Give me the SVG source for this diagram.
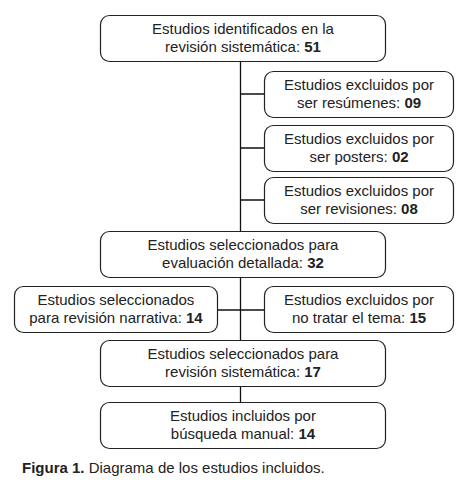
<svg xmlns="http://www.w3.org/2000/svg" width="460" height="486" viewBox="0 0 460 486">
<style>
.box{fill:#fff;stroke:#222;stroke-width:1.2}
.t{font-family:"Liberation Sans",Arial,sans-serif;font-size:15px;fill:#222;text-anchor:middle}
.b{font-weight:bold}
.c{stroke:#111;stroke-width:1.3;fill:none}
.cap{font-family:"Liberation Sans",Arial,sans-serif;font-size:15px;fill:#222}
</style>
<rect width="460" height="486" fill="#fff"/>
<g id="connectors">
<path class="c" d="M240.5 61V232M240.5 277V341M240.5 386V403M240.5 94H264M240.5 148H264M240.5 200H264M217 310H264"/>
</g>
<g id="n1"><rect class="box" x="100.5" y="15.5" width="285" height="46" rx="9"/>
<text class="t" x="243" y="33.5">Estudios identificados en la</text>
<text class="t" x="243" y="51.5">revisión sistemática: <tspan class="b">51</tspan></text></g>
<g id="n2"><rect class="box" x="264.5" y="71.5" width="189" height="46" rx="9"/>
<text class="t" x="359" y="89.5">Estudios excluidos por</text>
<text class="t" x="359" y="107.5">ser resúmenes: <tspan class="b">09</tspan></text></g>
<g id="n3"><rect class="box" x="264.5" y="125.5" width="189" height="46" rx="9"/>
<text class="t" x="359" y="143.5">Estudios excluidos por</text>
<text class="t" x="359" y="161.5">ser posters: <tspan class="b">02</tspan></text></g>
<g id="n4"><rect class="box" x="264.5" y="177.5" width="189" height="46" rx="9"/>
<text class="t" x="359" y="195.5">Estudios excluidos por</text>
<text class="t" x="359" y="213.5">ser revisiones: <tspan class="b">08</tspan></text></g>
<g id="n5"><rect class="box" x="100.5" y="231.5" width="285" height="46" rx="9"/>
<text class="t" x="243" y="249.5">Estudios seleccionados para</text>
<text class="t" x="243" y="267.5">evaluación detallada: <tspan class="b">32</tspan></text></g>
<g id="n6"><rect class="box" x="14.5" y="286.5" width="203" height="46" rx="9"/>
<text class="t" x="116" y="304.5">Estudios seleccionados</text>
<text class="t" x="116" y="322.5">para revisión narrativa: <tspan class="b">14</tspan></text></g>
<g id="n7"><rect class="box" x="264.5" y="286.5" width="189" height="46" rx="9"/>
<text class="t" x="359" y="304.5">Estudios excluidos por</text>
<text class="t" x="359" y="322.5">no tratar el tema: <tspan class="b">15</tspan></text></g>
<g id="n8"><rect class="box" x="100.5" y="340.5" width="285" height="46" rx="9"/>
<text class="t" x="243" y="358.5">Estudios seleccionados para</text>
<text class="t" x="243" y="376.5">revisión sistemática: <tspan class="b">17</tspan></text></g>
<g id="n9"><rect class="box" x="100.5" y="402.5" width="285" height="46" rx="9"/>
<text class="t" x="243" y="420.5">Estudios incluidos por</text>
<text class="t" x="243" y="438.5">búsqueda manual: <tspan class="b">14</tspan></text></g>
<text class="cap" x="22" y="473"><tspan font-weight="bold">Figura 1.</tspan> Diagrama de los estudios incluidos.</text>
</svg>
